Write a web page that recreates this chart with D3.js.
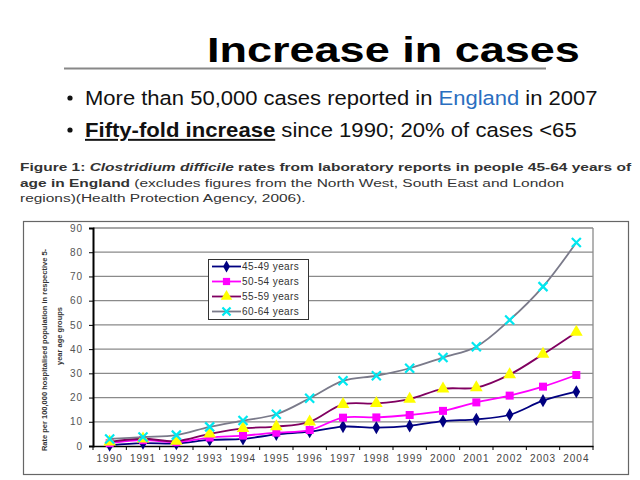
<!DOCTYPE html>
<html><head><meta charset="utf-8">
<script src="https://cdn.jsdelivr.net/npm/d3@7"></script>
<style>
body{margin:0;background:#fff}
svg{display:block;font-family:"Liberation Sans",Arial,sans-serif}
</style>
</head><body>
<svg id="c" width="640" height="480"></svg>
<script>
// ---- data ----
const years = [1990,1991,1992,1993,1994,1995,1996,1997,1998,1999,2000,2001,2002,2003,2004];
const seriesNames = ["45-49 years","50-54 years","55-59 years","60-64 years"];
const s4549 = [0.3,1.2,1.0,2.5,2.9,4.8,5.9,8.0,7.6,8.3,10.3,11.0,12.9,18.7,22.4];
const s5054 = [1.2,2.4,1.6,3.5,4.3,5.5,6.6,11.7,11.8,12.8,14.5,18.0,20.8,24.5,29.3];
const s5559 = [1.7,3.0,2.0,5.0,7.3,8.0,10.0,17.2,17.6,19.4,23.6,24.1,29.5,37.9,47.0];
const s6064 = [2.9,3.7,4.5,7.9,10.5,13.1,19.7,26.9,29.0,32.1,36.5,41.0,52.0,65.8,84.0];
const yTicks = [0,10,20,30,40,50,60,70,80,90];
const lineColors = ["#000080","#ff00ff","#800060","#7a7a8a"];
const markerColors = ["#000080","#ff00ff","#ffff00","#00e8f0"];
const markerTypes = ["diamond","square","triangle","x"];

const svg = d3.select("#c");

function fit(sel, x0, w){
  const bw = sel.node().getComputedTextLength();
  const k = w / bw;
  sel.attr("transform", `translate(${x0},0) scale(${k},1) translate(${-x0},0)`);
}

// ---- title ----
const title = svg.append("text").attr("x",207).attr("y",62)
  .attr("font-size",35).attr("font-weight","bold").attr("fill","#000")
  .text("Increase in cases");
fit(title,207,373);
svg.append("line").attr("x1",64).attr("x2",546).attr("y1",68.5).attr("y2",68.5)
  .attr("stroke","#888").attr("stroke-width",1.8);

// ---- bullets ----
svg.append("circle").attr("cx",70).attr("cy",98).attr("r",2.6).attr("fill","#111");
svg.append("circle").attr("cx",70).attr("cy",130).attr("r",2.6).attr("fill","#111");
const b1 = svg.append("text").attr("x",85).attr("y",105).attr("font-size",19.5).attr("fill","#111");
b1.append("tspan").text("More than 50,000 cases reported in ");
b1.append("tspan").attr("fill","#2a6ebf").text("England");
b1.append("tspan").text(" in 2007");
fit(b1,85,513);
const b2 = svg.append("text").attr("x",85).attr("y",137).attr("font-size",19.5).attr("fill","#111");
b2.append("tspan").attr("font-weight","bold").attr("text-decoration","underline").text("Fifty-fold increase");
b2.append("tspan").text(" since 1990; 20% of cases <65");
fit(b2,85,492);

// ---- caption ----
const c1 = svg.append("text").attr("x",20).attr("y",171).attr("font-size",11.5).attr("fill","#333");
c1.append("tspan").attr("font-weight","bold").text("Figure 1: ");
c1.append("tspan").attr("font-weight","bold").attr("font-style","italic").text("Clostridium difficile");
c1.append("tspan").attr("font-weight","bold").text(" rates from laboratory reports in people 45-64 years of");
fit(c1,20,612);
const c2 = svg.append("text").attr("x",20).attr("y",187).attr("font-size",11.5).attr("fill","#333");
c2.append("tspan").attr("font-weight","bold").text("age in England");
c2.append("tspan").text(" (excludes figures from the North West, South East and London");
fit(c2,20,545);
const c3 = svg.append("text").attr("x",20).attr("y",202).attr("font-size",11.5).attr("fill","#333")
  .text("regions)(Health Protection Agency, 2006).");
fit(c3,20,286);

// ---- chart frame ----
svg.append("rect").attr("x",23.5).attr("y",221.5).attr("width",605).attr("height",253)
  .attr("fill","none").attr("stroke","#666").attr("stroke-width",1.2);

const L=93, R=593, T=228, B=446;
const x = d3.scaleBand().domain(years).range([L,R]);
const xc = d => x(d) + x.bandwidth()/2;
const y = d3.scaleLinear().domain([0,90]).range([B,T]);

// gridlines
svg.append("g").selectAll("line").data(yTicks.filter(d=>d>0)).join("line")
  .attr("x1",L).attr("x2",R).attr("y1",d=>y(d)).attr("y2",d=>y(d))
  .attr("stroke","#8a8a8a").attr("stroke-width",1.3);
// plot right border
svg.append("line").attr("x1",R).attr("x2",R).attr("y1",T).attr("y2",B)
  .attr("stroke","#8a8a8a").attr("stroke-width",1.3);

// y axis
const ya = svg.append("g").attr("transform",`translate(${L},0)`)
  .call(d3.axisLeft(y).tickValues(yTicks).tickSize(4).tickPadding(6).tickFormat(d3.format("d")));
ya.select(".domain").attr("stroke","#000").attr("stroke-width",2);
ya.selectAll(".tick line").attr("stroke","#000");
ya.selectAll(".tick text").attr("font-size",10).attr("fill","#555")
  .attr("letter-spacing",1).attr("font-family","Liberation Sans, Arial, sans-serif");

// x axis
const xa = svg.append("g").attr("transform",`translate(0,${B})`)
  .call(d3.axisBottom(x).tickSize(0).tickPadding(9));
xa.select(".domain").attr("stroke","#000").attr("stroke-width",1.6);
xa.selectAll(".tick text").attr("font-size",10).attr("fill","#444")
  .attr("letter-spacing",1).attr("font-family","Liberation Sans, Arial, sans-serif");
xa.append("g").selectAll("line").data(years.concat([null])).join("line")
  .attr("x1",(d,i)=> i<years.length ? x(d) : R)
  .attr("x2",(d,i)=> i<years.length ? x(d) : R)
  .attr("y1",0).attr("y2",4).attr("stroke","#000");

// y axis title (two rotated lines)
const yt1 = svg.append("text").attr("transform","translate(47,350) rotate(-90)")
  .attr("text-anchor","middle").attr("font-size",7.5).attr("font-weight","bold").attr("fill","#333")
  .text("Rate per 100,000 hospitalised population in respective 5-");
const yt2 = svg.append("text").attr("transform","translate(62,336) rotate(-90)")
  .attr("text-anchor","middle").attr("font-size",7.5).attr("font-weight","bold").attr("fill","#333")
  .text("year age groups");

// ---- series ----
const allSeries = [s4549,s5054,s5559,s6064];
const lineGen = d3.line().x((d,i)=>xc(years[i])).y(d=>y(d)).curve(d3.curveCatmullRom.alpha(0.5));

function drawMarker(g, type, cx, cy, color, scale=1){
  if(type==="x"){
    const r=4.5*scale;
    g.append("path").attr("d",`M${cx-r},${cy-r}L${cx+r},${cy+r}M${cx-r},${cy+r}L${cx+r},${cy-r}`)
      .attr("stroke",color).attr("stroke-width",2.2).attr("fill","none");
  } else {
    const sym = {diamond:d3.symbolDiamond, square:d3.symbolSquare, triangle:d3.symbolTriangle}[type];
    const size = {diamond:50, square:64, triangle:70}[type]*scale*scale;
    g.append("path").attr("d",d3.symbol(sym,size)()).attr("transform",`translate(${cx},${cy})`)
      .attr("fill",color);
  }
}

allSeries.forEach((s,k)=>{
  const g = svg.append("g");
  g.append("path").datum(s).attr("d",lineGen).attr("fill","none")
    .attr("stroke",lineColors[k]).attr("stroke-width",1.8);
  s.forEach((v,i)=>drawMarker(g, markerTypes[k], xc(years[i]), y(v), markerColors[k]));
});

// ---- legend ----
const lg = svg.append("g");
lg.append("rect").attr("x",208.5).attr("y",259.5).attr("width",100).attr("height",60)
  .attr("fill","#fff").attr("stroke","#333").attr("stroke-width",1);
seriesNames.forEach((n,k)=>{
  const yy = 266.5 + k*15;
  lg.append("line").attr("x1",212).attr("x2",241).attr("y1",yy).attr("y2",yy)
    .attr("stroke",lineColors[k]).attr("stroke-width",1.8);
  drawMarker(lg, markerTypes[k], 226.5, yy, markerColors[k], 0.9);
  lg.append("text").attr("x",242).attr("y",yy+3.5).attr("font-size",10)
    .attr("fill","#333").attr("letter-spacing",0.4).text(n);
});
</script>
</body></html>
